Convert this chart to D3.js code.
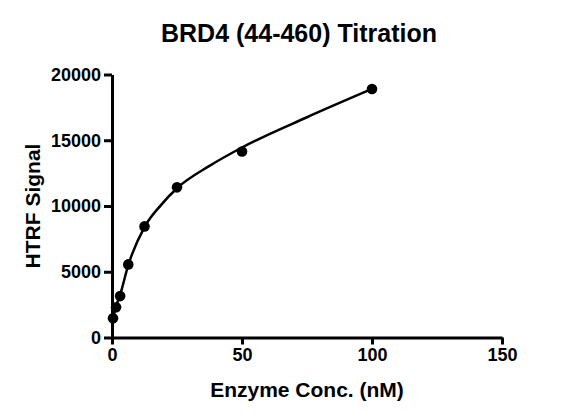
<!DOCTYPE html>
<meta charset="utf-8">
<style>
    body {
        margin: 0;
        padding: 0;
        background: #fff;
        font-family: "Liberation Sans", Arial, sans-serif;
    }

    svg {
        display: block;
    }

    .axis path,
    .axis line {
        stroke: #000;
        stroke-width: 3px;
    }

    .axis text {
        font-size: 18px;
        font-weight: bold;
        fill: #000;
    }
</style>
<svg width="562" height="418"></svg>
<script src="https://d3js.org/d3.v7.min.js"></script>
<script>
    // enzyme concentration (nM) and HTRF signal
    var conc = [0.39, 1.56, 3.125, 6.25, 12.5, 25, 50, 100];
    var signal = [1460, 2300, 3150, 5560, 8450, 11420, 14150, 18900];
    // fitted curve
    var fitConc = [0.39, 1.56, 3.125, 6.25, 12.5, 18.75, 25, 37.5, 50, 75, 100];
    var fitSignal = [1450, 2350, 3250, 5500, 8400, 10050, 11350, 13050, 14450, 16750, 18900];
    var xTicks = [0, 50, 100, 150];
    var yTicks = [0, 5000, 10000, 15000, 20000];

    var svg = d3.select("svg");

    var x = d3.scaleLinear().domain([0, 150]).range([112, 502]);
    var y = d3.scaleLinear().domain([0, 20000]).range([337.5, 74.5]);

    var points = conc.map(function(c, i) {
        return { x: c, y: signal[i] };
    });
    var fit = fitConc.map(function(c, i) {
        return { x: c, y: fitSignal[i] };
    });

    svg.append("g")
        .attr("class", "axis")
        .attr("transform", "translate(0,337.5)")
        .call(d3.axisBottom(x).tickValues(xTicks).tickFormat(d3.format("d"))
            .tickSize(7).tickSizeOuter(0).tickPadding(4));

    svg.append("g")
        .attr("class", "axis")
        .attr("transform", "translate(112,0)")
        .call(d3.axisLeft(y).tickValues(yTicks).tickFormat(d3.format("d"))
            .tickSize(8).tickSizeOuter(0).tickPadding(3));

    var line = d3.line()
        .x(function(d) { return x(d.x); })
        .y(function(d) { return y(d.y); })
        .curve(d3.curveMonotoneX);

    svg.append("path")
        .datum(fit)
        .attr("d", line)
        .attr("fill", "none")
        .attr("stroke", "#000")
        .attr("stroke-width", 2.5);

    svg.append("g")
        .selectAll("circle")
        .data(points)
        .enter().append("circle")
        .attr("cx", function(d) { return x(d.x); })
        .attr("cy", function(d) { return y(d.y); })
        .attr("r", 5.3)
        .attr("fill", "#000");

    svg.append("text")
        .attr("x", 299)
        .attr("y", 42)
        .attr("text-anchor", "middle")
        .style("font-size", "25px")
        .style("font-weight", "bold")
        .text("BRD4 (44-460) Titration");

    svg.append("text")
        .attr("x", 307)
        .attr("y", 397)
        .attr("text-anchor", "middle")
        .style("font-size", "21px")
        .style("font-weight", "bold")
        .text("Enzyme Conc. (nM)");

    svg.append("text")
        .attr("transform", "translate(40,206) rotate(-90)")
        .attr("text-anchor", "middle")
        .style("font-size", "21px")
        .style("font-weight", "bold")
        .text("HTRF Signal");
</script>
